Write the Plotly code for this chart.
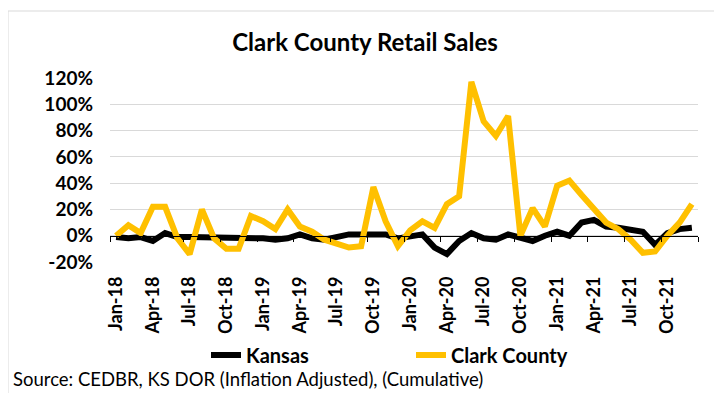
import plotly.graph_objects as go

years = ["18", "19", "20", "21"]
mon = ["Jan", "Feb", "Mar", "Apr", "May", "Jun", "Jul", "Aug", "Sep", "Oct", "Nov", "Dec"]
months = [f"{m}-{y}" for y in years for m in mon]

kansas = [-1, -2, -1, -4, 2, -1, -1, -1, -2, -2, -2, -2,
          -2, -3, -2, 1, -2, -3, -1, 1, 1, 1, 1, -2,
          0, 1, -9, -14, -4, 2, -2, -3, 1, -2, -4, 0,
          3, 0, 10, 12, 7, 6, 5, 3, -7, 2, 5, 6]
clark = [0, 8, 2, 22, 22, -2, -14, 20, -2, -10, -10, 15,
         11, 5, 20, 7, 3, -3, -6, -9, -8, 37, 11, -8,
         4, 11, 6, 24, 30, 117, 87, 76, 91, 0, 21, 7,
         38, 42, 31, 20, 10, 5, -3, -13, -12, 0, 10, 24]

tick_labels = months[::3]
y_ticks = [-0.2, 0, 0.2, 0.4, 0.6, 0.8, 1.0, 1.2]

FONT = "Lato"
W, H = 714, 385          # page body has an 8px margin
L, T, PW, PH = 102, 70, 588, 184

fig = go.Figure()
fig.add_trace(go.Scatter(x=months, y=[v / 100 for v in kansas], name="Kansas",
                         mode="lines", line=dict(color="#000000", width=6)))
fig.add_trace(go.Scatter(x=months, y=[v / 100 for v in clark], name="Clark County",
                         mode="lines", line=dict(color="#FFC000", width=6)))
# empty trace to create an overlay axis for the tick marks on the zero line
fig.add_trace(go.Scatter(x=[], y=[], xaxis="x2", showlegend=False, hoverinfo="skip"))

def px_x(px):   # reference pixel -> paper x
    return (px - 8 - L) / PW

def px_y(py):   # reference pixel -> paper y
    return (T + PH - (py - 8)) / PH

fig.update_layout(
    width=W, height=H,
    margin=dict(l=L, r=W - L - PW, t=T, b=H - T - PH, autoexpand=False),
    paper_bgcolor="white", plot_bgcolor="white",
    font=dict(family=FONT, color="#000000"),
    title=dict(text="<b>Clark County Retail Sales</b>", x=(365 - 8) / W, xanchor="center",
               y=1 - (43 - 8) / H, yanchor="middle", xref="container", yref="container",
               font=dict(size=24, family=FONT, color="#000000")),
    xaxis=dict(type="category", categoryorder="array", categoryarray=months,
               range=[-0.5, 47.5], tickmode="array", tickvals=tick_labels,
               ticktext=[f"<b>{t}</b>" for t in tick_labels], tickangle=-90,
               tickfont=dict(size=18, family=FONT, color="#000000"),
               showgrid=False, zeroline=False, showline=False, ticks="",
               ticklabelstandoff=10),
    xaxis2=dict(overlaying="x", anchor="free", position=0.2 / 1.4, range=[-0.5, 47.5],
                type="linear", tickmode="array",
                tickvals=[i - 0.5 for i in range(0, 49, 3)],
                showticklabels=False, ticks="outside", ticklen=5, tickcolor="#000000",
                showline=True, linecolor="#000000", linewidth=1, showgrid=False,
                zeroline=False),
    yaxis=dict(range=[-0.2, 1.2], tickmode="array", tickvals=y_ticks,
               ticktext=[f"<b>{round(v*100)}%</b>" for v in y_ticks],
               tickfont=dict(size=19, family=FONT, color="#000000"),
               showgrid=True, gridcolor="#d9d9d9", gridwidth=1, zeroline=False,
               ticklabelstandoff=16),
    legend=dict(orientation="h", x=px_x(206), xanchor="left",
                y=px_y(355), yanchor="middle",
                entrywidth=160, entrywidthmode="pixels",
                font=dict(size=20, family=FONT, color="#000000", weight="bold"),
                bgcolor="rgba(0,0,0,0)"),
    showlegend=True,
)

fig.add_annotation(text="Source: CEDBR, KS DOR (Inflation Adjusted), (Cumulative)",
                   xref="paper", yref="paper", x=px_x(11), xanchor="left",
                   y=px_y(379), yanchor="middle", showarrow=False,
                   font=dict(size=18.5, family=FONT, color="#000000"))

fig.add_shape(type="rect", xref="paper", yref="paper",
              x0=px_x(8), x1=px_x(715),
              y0=px_y(400), y1=px_y(11),
              line=dict(color="#d9d9d9", width=1), fillcolor="rgba(0,0,0,0)", layer="below")

fig.write_html("out.html")
